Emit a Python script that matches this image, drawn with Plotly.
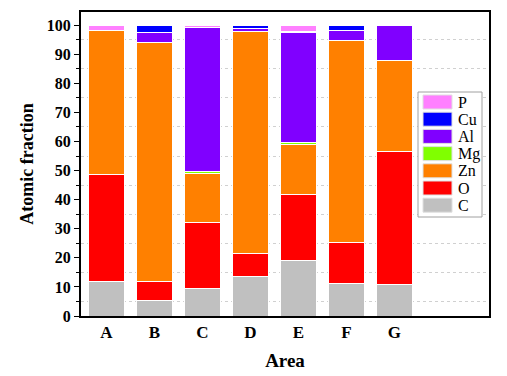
import plotly.graph_objects as go

areas = ["A", "B", "C", "D", "E", "F", "G"]
C_vals  = [11.8, 5.2, 9.5, 13.5, 19.1, 11.3, 10.8]
O_vals  = [36.8, 6.7, 22.5, 8.1, 22.8, 13.8, 45.8]
Zn_vals = [49.5, 82.1, 17.1, 76.3, 17.1, 69.7, 31.2]
Mg_vals = [0.0, 0.0, 0.7, 0.0, 0.6, 0.0, 0.0]
Al_vals = [0.0, 3.5, 49.3, 1.0, 37.9, 3.3, 12.0]
Cu_vals = [0.0, 2.5, 0.0, 1.1, 0.3, 1.9, 0.2]
P_vals  = [1.9, 0.0, 0.9, 0.0, 2.2, 0.0, 0.0]

series = [
    ("C", C_vals, "#C0C0C0"),
    ("O", O_vals, "#FF0000"),
    ("Zn", Zn_vals, "#FF8000"),
    ("Mg", Mg_vals, "#80FF00"),
    ("Al", Al_vals, "#8000FF"),
    ("Cu", Cu_vals, "#0000FF"),
    ("P", P_vals, "#FF80FF"),
]

FONT = "Liberation Serif, Times New Roman, serif"
W, H = 507, 376
ML, MR, MT, MB = 81, 18, 12, 60
PW, PH = W - ML - MR, H - MT - MB

def px_x(px):
    return (px - ML) / PW

def px_y(py):
    return (H - MB - py) / PH

fig = go.Figure()
for name, vals, col in series:
    fig.add_trace(go.Bar(
        x=areas, y=vals, name=name,
        marker=dict(color=col, line=dict(color="white", width=1)),
        width=0.76, showlegend=False,
    ))

# Legend box drawn to mimic the reference's wide swatches
shapes = [dict(type="rect", xref="paper", yref="paper",
               x0=px_x(418), x1=px_x(482), y0=px_y(217), y1=px_y(92),
               line=dict(color="#A0A0A0", width=1), fillcolor="white", layer="above")]
annotations = []
for i, (name, vals, col) in enumerate(reversed(series)):
    cy = 102 + i * 17.2
    shapes.append(dict(type="rect", xref="paper", yref="paper",
                       x0=px_x(423), x1=px_x(452), y0=px_y(cy + 7), y1=px_y(cy - 7),
                       line=dict(color="#E0E0E0", width=1), fillcolor=col, layer="above"))
    annotations.append(dict(xref="paper", yref="paper", x=px_x(456), y=px_y(cy),
                            text=name, showarrow=False, xanchor="left", yanchor="middle",
                            font=dict(family=FONT, size=16, color="black")))

fig.update_layout(
    barmode="stack",
    width=W, height=H,
    margin=dict(l=ML, r=MR, t=MT, b=MB),
    paper_bgcolor="white", plot_bgcolor="white",
    font=dict(family=FONT, color="black"),
    showlegend=False,
    shapes=shapes,
    annotations=annotations,
    xaxis=dict(
        type="category",
        range=[-0.53, 7.97],
        automargin=False,
        showline=True, linecolor="black", linewidth=2, mirror=True,
        ticks="", showgrid=False,
        tickfont=dict(family=FONT, size=17, color="black", weight="bold"),
        title=dict(text="<b>Area</b>", font=dict(family=FONT, size=19, color="black"), standoff=12),
    ),
    yaxis=dict(
        range=[0, 104.5],
        automargin=False,
        tickmode="linear", tick0=0, dtick=10,
        showline=True, linecolor="black", linewidth=2, mirror=True,
        ticks="outside", ticklen=5, tickwidth=1, tickcolor="black",
        showgrid=False, zeroline=False,
        minor=dict(dtick=5, tick0=0, ticks="outside", ticklen=3, tickcolor="black",
                   showgrid=True, gridcolor="#D0D0D0", griddash="dot", gridwidth=1),
        tickfont=dict(family=FONT, size=16, color="black", weight="bold"),
        title=dict(text="<b>Atomic fraction</b>", font=dict(family=FONT, size=18, color="black"), standoff=8),
    ),
)

fig.write_html("out.html", config={"displayModeBar": False},
               post_script="document.body.style.margin='0px';document.body.style.overflow='hidden';")
